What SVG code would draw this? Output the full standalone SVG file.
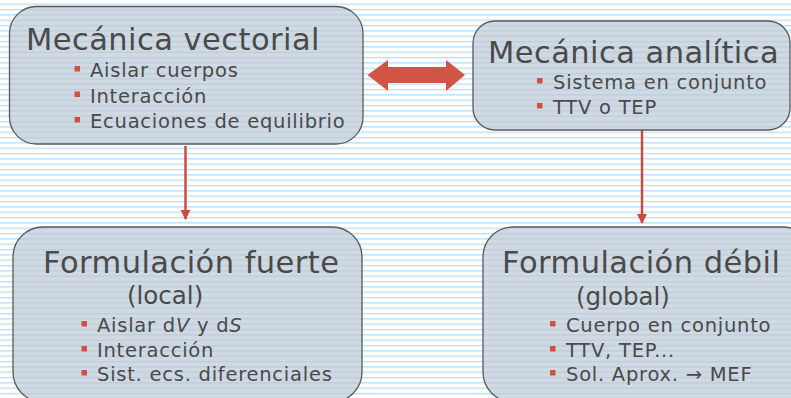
<svg xmlns="http://www.w3.org/2000/svg" width="791" height="398" viewBox="0 0 791 398">
<defs>
<pattern id="lines" x="0" y="0" width="10" height="5.333" patternUnits="userSpaceOnUse">
<rect x="0" y="0" width="10" height="5.333" fill="#ffffff"/>
<rect x="0" y="3.6" width="10" height="1.3" fill="#bcdcef"/>
</pattern>
<marker id="ah" viewBox="0 0 10 10" refX="9" refY="5" markerWidth="4" markerHeight="4" orient="auto" markerUnits="strokeWidth">
<path d="M0,0 L10,5 L0,10 Z" fill="#cc4b3f"/>
</marker>
</defs>
<style>
.box{fill:#b8c6d2;fill-opacity:0.65;stroke:#555b60;stroke-width:1.3}
.title{font-family:"DejaVu Sans",Verdana,sans-serif;font-size:30.5px;fill:#4a4a4a;letter-spacing:0.45px}
.sub{font-family:"DejaVu Sans",Verdana,sans-serif;font-size:24.5px;fill:#4a4a4a}
.item{font-family:"DejaVu Sans",Verdana,sans-serif;font-size:19.5px;fill:#4a4a4a;letter-spacing:0.75px}
.bul{fill:#d0503f}
.conn{stroke:#cc4b3f;stroke-width:2.5;fill:none}
</style>
<rect x="0" y="0" width="791" height="398" fill="url(#lines)"/>

<g id="connectors">
<path class="conn" d="M185.5,146 V219" marker-end="url(#ah)"/>
<path class="conn" d="M642,130 V223" marker-end="url(#ah)"/>
<polygon points="367.5,75 388,60 388,67 446,67 446,60 465,75 446,91 446,83 388,83 388,91" fill="#d05545"/>
</g>

<g id="mecanica-vectorial">
<rect class="box" x="9.5" y="6.5" width="353.5" height="137.5" rx="27" ry="27"/>
<text class="title" x="26" y="50">Mecánica vectorial</text>
<rect class="bul" x="74.5" y="66" width="5.5" height="5.5"/>
<text class="item" x="90" y="77">Aislar cuerpos</text>
<rect class="bul" x="74.5" y="91.5" width="5.5" height="5.5"/>
<text class="item" x="90" y="102.5">Interacción</text>
<rect class="bul" x="74.5" y="117" width="5.5" height="5.5"/>
<text class="item" x="90" y="128">Ecuaciones de equilibrio</text>
</g>

<g id="mecanica-analitica">
<rect class="box" x="473" y="21" width="317" height="109" rx="22" ry="22"/>
<text class="title" x="488" y="63">Mecánica analítica</text>
<rect class="bul" x="537" y="78" width="5.5" height="5.5"/>
<text class="item" x="553" y="89">Sistema en conjunto</text>
<rect class="bul" x="537" y="103" width="5.5" height="5.5"/>
<text class="item" x="553" y="114">TTV o TEP</text>
</g>

<g id="formulacion-fuerte">
<rect class="box" x="13" y="227" width="349" height="175" rx="30" ry="30"/>
<text class="title" x="43" y="273">Formulación fuerte</text>
<text class="sub" x="127" y="304">(local)</text>
<rect class="bul" x="81.5" y="321" width="5.5" height="5.5"/>
<text class="item" x="97" y="332">Aislar d<tspan font-style="italic">V</tspan> y d<tspan font-style="italic">S</tspan></text>
<rect class="bul" x="81.5" y="346" width="5.5" height="5.5"/>
<text class="item" x="97" y="357">Interacción</text>
<rect class="bul" x="81.5" y="370" width="5.5" height="5.5"/>
<text class="item" x="97" y="381">Sist. ecs. diferenciales</text>
</g>

<g id="formulacion-debil">
<rect class="box" x="483" y="227" width="330" height="175" rx="30" ry="30"/>
<text class="title" x="502" y="273">Formulación débil</text>
<text class="sub" x="576" y="305">(global)</text>
<rect class="bul" x="550" y="321" width="5.5" height="5.5"/>
<text class="item" x="566" y="332">Cuerpo en conjunto</text>
<rect class="bul" x="550" y="346" width="5.5" height="5.5"/>
<text class="item" x="566" y="357">TTV, TEP...</text>
<rect class="bul" x="550" y="370" width="5.5" height="5.5"/>
<text class="item" x="566" y="381">Sol. Aprox. → MEF</text>
</g>
</svg>
